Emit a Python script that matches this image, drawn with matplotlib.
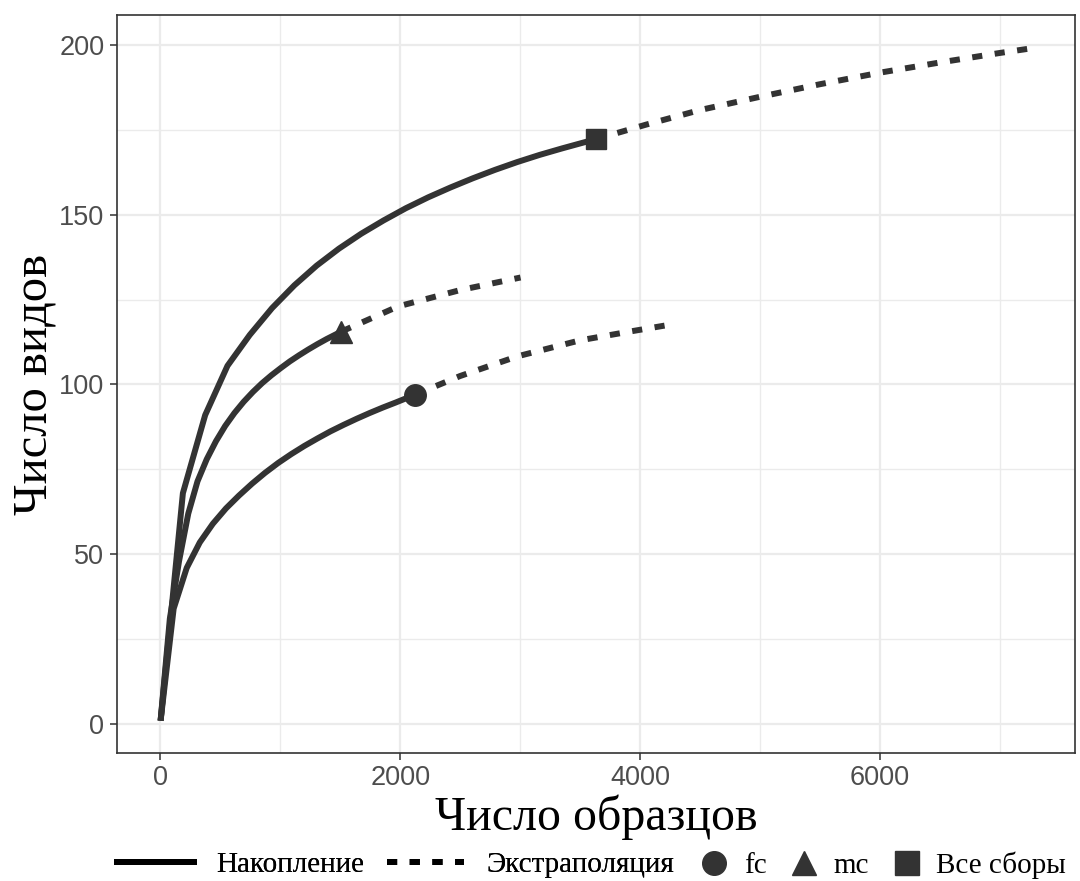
# Кривые накопления видов (iNEXT-подобный график): наблюдаемая часть и экстраполяция
import matplotlib
matplotlib.use("Agg")
import matplotlib.pyplot as plt
from matplotlib.lines import Line2D
from matplotlib.ticker import MultipleLocator

# Все сборы
ALL_X = [1, 187, 373, 559, 745, 931, 1117, 1303, 1489, 1675, 1861, 2047, 2233,
         2419, 2605, 2791, 2977, 3163, 3349, 3535, 3630]
ALL_Y = [1, 68, 91, 105.5, 114.6, 122.5, 129.2, 135, 140, 144.4, 148.3, 151.9,
         155.1, 158, 160.7, 163.2, 165.5, 167.6, 169.5, 171.3, 172.2]
ALL_EX_X = [3630, 4050, 4500, 5000, 5500, 6000, 6500, 7000, 7250]
ALL_EX_Y = [172.2, 176.5, 180.8, 184.7, 188.4, 191.8, 194.8, 197.6, 198.9]

# mc
MC_X = [1, 78, 155, 232, 309, 386, 463, 540, 617, 694, 771, 848, 925, 1002,
        1079, 1156, 1233, 1310, 1387, 1510]
MC_Y = [1, 31, 48, 62, 71.5, 78, 83.3, 87.8, 91.6, 94.9, 97.8, 100.4, 102.7,
        104.8, 106.8, 108.6, 110.3, 111.9, 113.4, 115.6]
MC_EX_X = [1510, 1983, 2500, 3004]
MC_EX_Y = [115.6, 123, 127.8, 131.5]

# fc
FC_X = [1, 110, 219, 328, 437, 546, 655, 764, 873, 982, 1091, 1200, 1309,
        1418, 1527, 1636, 1745, 1854, 1963, 2124]
FC_Y = [1, 34, 46, 53.5, 59, 63.5, 67.3, 70.8, 74, 76.9, 79.5, 81.9, 84.1,
        86.2, 88.1, 89.9, 91.6, 93.2, 94.7, 97]
FC_EX_X = [2124, 2500, 2979, 3500, 3917, 4249]
FC_EX_Y = [97, 102.5, 108.3, 113, 115.6, 117.6]

SERIES = [
    ("fc", "o", FC_X, FC_Y, FC_EX_X, FC_EX_Y),
    ("mc", "^", MC_X, MC_Y, MC_EX_X, MC_EX_Y),
    ("Все сборы", "s", ALL_X, ALL_Y, ALL_EX_X, ALL_EX_Y),
]

INK = "#333333"
GRID = "#EBEBEB"
LW = 4.3
DASH = (0, (1.7, 2.1))
SERIF = "Liberation Serif"
SANS = "Liberation Sans"

fig = plt.figure(figsize=(10.8, 8.81), dpi=100)
ax = fig.add_axes([0.1083, 0.1453, 0.8871, 0.8377])

for name, mk, x, y, ex, ey in SERIES:
    ax.plot(x, y, color=INK, lw=LW, solid_capstyle="butt", zorder=3)
    ax.plot(ex, ey, color=INK, lw=LW, linestyle=DASH, dash_capstyle="butt", zorder=3)
    ax.plot(x[-1], y[-1], marker=mk, color=INK, ms=15.5 if mk != "s" else 14.5,
            linestyle="none", zorder=4)

ax.set_xlim(-363, 7630)
ax.set_ylim(-8.5, 208.8)
ax.xaxis.set_major_locator(MultipleLocator(2000))
ax.xaxis.set_minor_locator(MultipleLocator(1000))
ax.yaxis.set_major_locator(MultipleLocator(50))
ax.yaxis.set_minor_locator(MultipleLocator(25))
ax.grid(which="major", color=GRID, lw=1.6, zorder=0)
ax.grid(which="minor", color=GRID, lw=1.0, zorder=0)
ax.set_axisbelow(True)
ax.tick_params(which="major", length=5, width=1.1, color=INK, labelsize=19.5,
               labelcolor="#4D4D4D", pad=4)
ax.tick_params(which="minor", length=0)
for lab in ax.get_xticklabels() + ax.get_yticklabels():
    lab.set_fontfamily(SANS)
for sp in ax.spines.values():
    sp.set_color(INK)
    sp.set_linewidth(1.2)

ax.set_xlabel("Число образцов", fontfamily=SERIF, fontsize=34.5, labelpad=2)
ax.set_ylabel("Число видов", fontfamily=SERIF, fontsize=35, labelpad=2)

# Легенда: тип линии и форма маркера
line_handles = [
    Line2D([], [], color="black", lw=LW),
    Line2D([], [], color="black", lw=LW, linestyle=DASH),
]
leg1 = fig.legend(line_handles, ["Накопление", "Экстраполяция"], ncol=2,
                  loc="center left", bbox_to_anchor=(0.108, 0.018),
                  frameon=False, handlelength=2.65, handletextpad=0.75,
                  columnspacing=0.8, borderpad=0, borderaxespad=0,
                  prop={"family": SERIF, "size": 21})
shape_handles = [
    Line2D([], [], color=INK, marker=mk, linestyle="none", ms=17)
    for _, mk, *_ in SERIES
]
fig.legend(shape_handles, [s[0] for s in SERIES], ncol=3,
           loc="center left", bbox_to_anchor=(0.648, 0.018),
           frameon=False, handlelength=1.0, handletextpad=0.5,
           columnspacing=0.8, borderpad=0, borderaxespad=0,
           prop={"family": SERIF, "size": 21})
fig.add_artist(leg1)

fig.savefig("out.png", dpi=100)
